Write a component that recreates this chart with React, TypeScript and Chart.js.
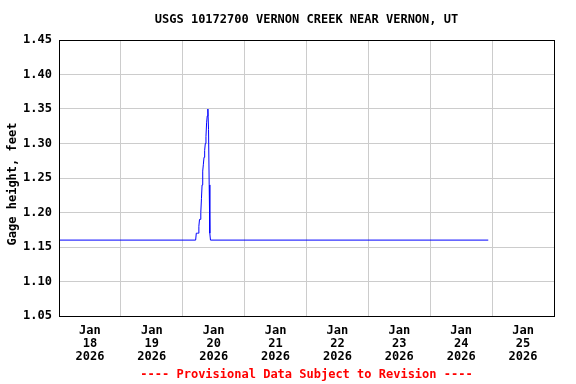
import React, { useEffect, useRef } from "react";
import { Chart, registerables } from "chart.js";

Chart.register(...registerables);

const titleText = "USGS 10172700 VERNON CREEK NEAR VERNON, UT";
const yAxisTitle = "Gage height, feet";
const footerText = "---- Provisional Data Subject to Revision ----";

const dayLabels = ["18", "19", "20", "21", "22", "23", "24", "25"];
const monthLabel = "Jan";
const yearLabel = "2026";
const axisStart = "2026-01-18 00:00";
const axisEnd = "2026-01-26 00:00";

const yMin = 1.05;
const yMax = 1.45;
const yStep = 0.05;

// Gage height readings (change points), local time
const obsTimes = [
  "2026-01-18 00:00",
  "2026-01-20 05:00",
  "2026-01-20 05:15",
  "2026-01-20 05:30",
  "2026-01-20 05:45",
  "2026-01-20 06:00",
  "2026-01-20 06:15",
  "2026-01-20 06:30",
  "2026-01-20 06:45",
  "2026-01-20 07:00",
  "2026-01-20 07:15",
  "2026-01-20 07:30",
  "2026-01-20 07:45",
  "2026-01-20 08:00",
  "2026-01-20 08:15",
  "2026-01-20 08:30",
  "2026-01-20 08:45",
  "2026-01-20 09:00",
  "2026-01-20 09:15",
  "2026-01-20 09:30",
  "2026-01-20 09:45",
  "2026-01-20 10:00",
  "2026-01-20 10:15",
  "2026-01-20 10:30",
  "2026-01-20 10:45",
  "2026-01-24 22:30",
];
const obsValues = [
  1.16, 1.16, 1.17, 1.17, 1.17, 1.17, 1.18, 1.19, 1.19, 1.2, 1.22, 1.24, 1.26,
  1.27, 1.28, 1.29, 1.3, 1.31, 1.33, 1.34, 1.35, 1.32, 1.24, 1.17, 1.16, 1.16,
];

const FONT = "'DejaVu Sans Mono', 'Liberation Mono', monospace";

function toHours(s: string): number {
  const [d, t] = s.split(" ");
  const [Y, M, D] = d.split("-").map(Number);
  const [h, m] = t.split(":").map(Number);
  const ms = Date.UTC(Y, M - 1, D, h, m);
  const [d0, t0] = axisStart.split(" ");
  const [Y0, M0, D0] = d0.split("-").map(Number);
  const [h0, m0] = t0.split(":").map(Number);
  const ms0 = Date.UTC(Y0, M0 - 1, D0, h0, m0);
  return (ms - ms0) / 3600000;
}

const textPlugin = {
  id: "usgsText",
  afterDraw(chart: any) {
    const { ctx, chartArea } = chart;
    const cx = (chartArea.left + chartArea.right) / 2;
    ctx.save();
    ctx.strokeStyle = "#000000";
    ctx.lineWidth = 1;
    ctx.strokeRect(
      Math.round(chartArea.left) + 0.5,
      Math.round(chartArea.top) + 0.5,
      Math.round(chartArea.right - chartArea.left),
      Math.round(chartArea.bottom - chartArea.top)
    );
    ctx.font = `bold 12px ${FONT}`;
    ctx.textAlign = "center";
    ctx.textBaseline = "middle";
    ctx.fillStyle = "#000000";
    ctx.fillText(titleText, cx, 20);
    ctx.fillStyle = "#ff0000";
    ctx.fillText(footerText, cx, 375);
    ctx.translate(13, 184);
    ctx.rotate(-Math.PI / 2);
    ctx.fillStyle = "#000000";
    ctx.fillText(yAxisTitle, 0, 0);
    ctx.restore();
  },
};

export default function App() {
  const ref = useRef<HTMLCanvasElement>(null);
  useEffect(() => {
    document.body.style.margin = "0";
    const canvas = ref.current!;
    const data = obsTimes.map((t, i) => ({ x: toHours(t), y: obsValues[i] }));
    const xMax = toHours(axisEnd);
    const chart = new Chart(canvas, {
      type: "line",
      data: {
        datasets: [
          {
            data,
            borderColor: "#0000ff",
            borderWidth: 1,
            pointRadius: 0,
            tension: 0,
            fill: false,
          },
        ],
      },
      plugins: [textPlugin],
      options: {
        animation: false,
        responsive: false,
        devicePixelRatio: 1,
        layout: { padding: { top: 40, right: 22, left: 0, bottom: 0 } },
        plugins: {
          legend: { display: false },
          tooltip: { enabled: false },
          title: { display: false },
        },
        scales: {
          x: {
            type: "linear",
            min: 0,
            max: xMax,
            afterFit: (s: any) => {
              s.height = 68;
            },
            afterBuildTicks: (s: any) => {
              const t = [];
              for (let v = 0; v <= xMax; v += 12) t.push({ value: v });
              s.ticks = t;
            },
            grid: {
              color: (c: any) =>
                c.tick && c.tick.value % 24 === 0 ? "#cccccc" : "rgba(0,0,0,0)",
              drawTicks: false,
              lineWidth: 1,
            },
            border: { display: true, color: "#000000" },
            ticks: {
              autoSkip: false,
              maxRotation: 0,
              padding: 9,
              color: "#000000",
              font: { family: FONT, size: 12, weight: "bold", lineHeight: 1.05 },
              callback: (v: any) => {
                const n = Number(v);
                if (n % 24 !== 12) return "";
                const idx = Math.floor(n / 24);
                return [monthLabel, dayLabels[idx], yearLabel];
              },
            },
          },
          y: {
            type: "linear",
            min: yMin,
            max: yMax,
            afterFit: (s: any) => {
              s.width = 59;
            },
            grid: { color: "#cccccc", drawTicks: false, lineWidth: 1 },
            border: { display: true, color: "#000000" },
            title: { display: false },
            ticks: {
              stepSize: yStep,
              padding: 7,
              color: "#000000",
              font: { family: FONT, size: 12, weight: "bold" },
              callback: (v: any) => Number(v).toFixed(2),
            },
          },
        },
      },
    });
    return () => chart.destroy();
  }, []);
  return (
    <div style={{ position: "absolute", left: 0, top: 0, width: 576, height: 384 }}>
      <canvas ref={ref} width={576} height={384} style={{ display: "block" }} />
    </div>
  );
}
